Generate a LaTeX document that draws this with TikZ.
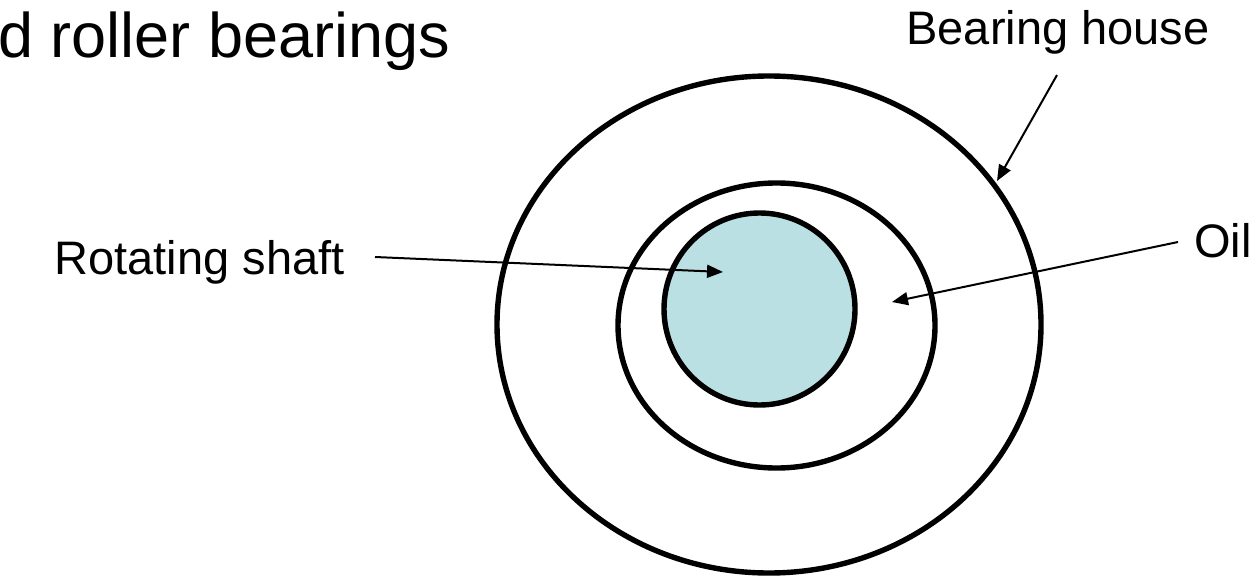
\documentclass[tikz,border=0pt]{standalone}
\usepackage{fontspec}
\setmainfont{Liberation Sans}
\usepackage{xcolor}
\usetikzlibrary{arrows.meta, shapes.geometric, positioning}
\definecolor{shaftblue}{RGB}{187,224,227}

\begin{document}
\begin{tikzpicture}[
    x=0.5pt, y=-0.5pt,
    % Styles
    ring/.style={ellipse, draw=black, line width=2.7pt, inner sep=0pt},
    tag/.style={font=\fontsize{23.5}{28}\selectfont, inner sep=0pt},
    pointer/.style={-{Triangle[length=8pt,width=6.5pt]}, line width=1pt}
]
    \useasboundingbox (0,0) rectangle (1256,577);

    % --- Title (cut at the left edge) ---
    \node[font=\fontsize{31.5}{38}\selectfont, anchor=base west, inner sep=0pt] (title) at (-2,58) {d roller bearings};

    % --- Bearing: house, oil film, shaft ---
    \node[ring, minimum width=272pt, minimum height=248.5pt] (house) at (769,324.5) {};
    \node[ring, minimum width=158.5pt, minimum height=142.5pt] (oil) at (776.5,325.5) {};
    \node[ring, fill=shaftblue, minimum width=95.5pt, minimum height=96pt] (shaft) at (759.5,309) {};

    % --- Labels ---
    \node[tag, anchor=base west] (houselbl) at (906,45) {Bearing house};
    \node[tag, anchor=base west] (oillbl) at (1194,257) {Oil};
    \node[tag, anchor=base east] (shaftlbl) at (345,274) {Rotating shaft};

    % --- Pointer ends ---
    \coordinate (housetail) at (1057,75);
    \coordinate (housetip) at (997,181);
    \coordinate (oiltail) at (1178,242);
    \coordinate (oiltip) at (892,302);
    \coordinate (shafttail) at (375,257);
    \coordinate (shafttip) at (723,272);

    \draw[pointer] (housetail) -- (housetip);
    \draw[pointer] (oiltail) -- (oiltip);
    \draw[pointer] (shafttail) -- (shafttip);

\end{tikzpicture}
\end{document}
